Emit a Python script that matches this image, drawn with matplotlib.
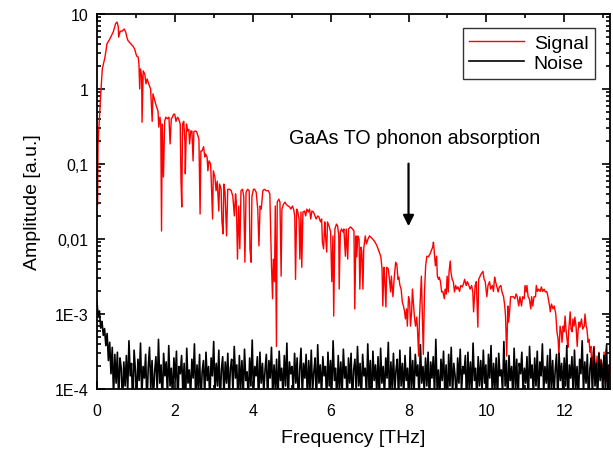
import numpy as np
import matplotlib
matplotlib.use("Agg")
import matplotlib.pyplot as plt
from matplotlib.ticker import FixedLocator, FixedFormatter, MultipleLocator, LogLocator, NullFormatter

plt.rcParams['font.family'] = ['Liberation Sans', 'DejaVu Sans']

# THz spectrum (signal)
signal_freq = [
    0.02, 0.03, 0.07, 0.10, 0.14, 0.21, 0.26, 0.33, 0.42, 0.48,
    0.52, 0.55, 0.56, 0.60, 0.65, 0.70, 0.74, 0.77, 0.80, 0.87,
    0.93, 0.97, 1.02, 1.06, 1.08, 1.10, 1.12, 1.15, 1.16, 1.19,
    1.23, 1.26, 1.29, 1.33, 1.38, 1.42, 1.44, 1.49, 1.53, 1.57,
    1.59, 1.62, 1.64, 1.66, 1.68, 1.71, 1.74, 1.77, 1.81, 1.85,
    1.88, 1.91, 1.94, 1.97, 2.00, 2.03, 2.07, 2.10, 2.14, 2.16,
    2.18, 2.20, 2.23, 2.26, 2.27, 2.30, 2.33, 2.36, 2.38, 2.41,
    2.44, 2.47, 2.49, 2.53, 2.56, 2.62, 2.65, 2.67, 2.70, 2.74,
    2.77, 2.79, 2.83, 2.85, 2.88, 2.92, 2.94, 2.97, 2.99, 3.03,
    3.06, 3.09, 3.13, 3.15, 3.19, 3.21, 3.24, 3.26, 3.29, 3.33,
    3.36, 3.41, 3.45, 3.49, 3.53, 3.56, 3.58, 3.61, 3.64, 3.67,
    3.70, 3.74, 3.77, 3.80, 3.83, 3.87, 3.91, 3.93, 3.96, 3.98,
    4.02, 4.05, 4.09, 4.13, 4.16, 4.19, 4.22, 4.26, 4.30, 4.35,
    4.40, 4.44, 4.46, 4.48, 4.51, 4.53, 4.56, 4.58, 4.61, 4.63,
    4.67, 4.70, 4.73, 4.75, 4.79, 4.83, 4.86, 4.91, 4.95, 4.98,
    5.02, 5.05, 5.08, 5.10, 5.13, 5.16, 5.19, 5.21, 5.24, 5.26,
    5.29, 5.33, 5.36, 5.39, 5.43, 5.46, 5.49, 5.52, 5.56, 5.60,
    5.63, 5.67, 5.70, 5.74, 5.77, 5.79, 5.82, 5.85, 5.87, 5.90,
    5.92, 5.96, 6.00, 6.03, 6.06, 6.08, 6.11, 6.15, 6.18, 6.21,
    6.22, 6.25, 6.28, 6.32, 6.34, 6.38, 6.40, 6.44, 6.46, 6.51,
    6.56, 6.60, 6.62, 6.65, 6.67, 6.70, 6.73, 6.75, 6.78, 6.80,
    6.83, 6.85, 6.89, 6.92, 6.96, 7.00, 7.04, 7.08, 7.14, 7.19,
    7.24, 7.29, 7.32, 7.34, 7.37, 7.39, 7.42, 7.44, 7.48, 7.51,
    7.54, 7.56, 7.60, 7.63, 7.67, 7.70, 7.73, 7.75, 7.78, 7.81,
    7.84, 7.87, 7.90, 7.92, 7.95, 7.97, 8.00, 8.03, 8.05, 8.08,
    8.10, 8.13, 8.15, 8.18, 8.21, 8.23, 8.26, 8.28, 8.31, 8.33,
    8.36, 8.38, 8.41, 8.44, 8.47, 8.51, 8.55, 8.58, 8.62, 8.64,
    8.67, 8.69, 8.72, 8.74, 8.77, 8.79, 8.82, 8.85, 8.88, 8.92,
    8.94, 8.97, 8.99, 9.02, 9.04, 9.07, 9.09, 9.12, 9.15, 9.18,
    9.21, 9.24, 9.27, 9.31, 9.34, 9.38, 9.41, 9.44, 9.48, 9.51,
    9.55, 9.58, 9.62, 9.65, 9.67, 9.71, 9.74, 9.78, 9.80, 9.86,
    9.91, 9.94, 9.97, 10.01, 10.04, 10.08, 10.11, 10.15, 10.18, 10.21,
    10.23, 10.26, 10.30, 10.33, 10.37, 10.40, 10.44, 10.47, 10.49, 10.52,
    10.55, 10.57, 10.60, 10.62, 10.66, 10.69, 10.73, 10.76, 10.79, 10.83,
    10.86, 10.90, 10.93, 10.97, 10.99, 11.02, 11.04, 11.07, 11.10, 11.14,
    11.16, 11.19, 11.22, 11.26, 11.28, 11.31, 11.34, 11.38, 11.41, 11.44,
    11.48, 11.51, 11.55, 11.58, 11.62, 11.64, 11.67, 11.71, 11.74, 11.78,
    11.81, 11.84, 11.86, 11.89, 11.92, 11.94, 11.97, 11.99, 12.02, 12.04,
    12.07, 12.09, 12.12, 12.15, 12.17, 12.20, 12.22, 12.25, 12.27, 12.30,
    12.33, 12.35, 12.38, 12.40, 12.44, 12.47, 12.51, 12.53, 12.56, 12.58,
    12.61, 12.63, 12.66, 12.68, 12.71, 12.74, 12.76, 12.79, 12.81, 12.84,
    12.86, 12.89, 12.92, 12.94, 12.97, 12.99, 13.02, 13.04, 13.07, 13.10,
    13.12, 13.15,
]
signal_amp = [
    0.029, 0.185, 0.46, 0.86, 1.85, 2.67, 4.0, 4.6, 5.75, 7.4,
    7.8, 6.7, 4.9, 5.9, 5.9, 6.3, 5.75, 4.9, 4.4, 4.0,
    3.7, 3.4, 2.75, 2.67, 2.15, 1.0, 1.85, 1.49, 0.36, 1.74,
    1.58, 1.17, 1.36, 1.17, 1.0, 0.37, 0.86, 0.69, 0.58, 0.51,
    0.31, 0.42, 0.34, 0.0128, 0.34, 0.067, 0.37, 0.42, 0.40, 0.42,
    0.185, 0.40, 0.42, 0.46, 0.46, 0.37, 0.42, 0.40, 0.34, 0.059,
    0.0267, 0.34, 0.37, 0.20, 0.074, 0.34, 0.275, 0.29, 0.185, 0.275,
    0.275, 0.11, 0.27, 0.275, 0.27, 0.215, 0.0215, 0.149, 0.149, 0.17,
    0.124, 0.136, 0.124, 0.081, 0.11, 0.1, 0.054, 0.0185, 0.081, 0.067,
    0.044, 0.059, 0.0236, 0.054, 0.046, 0.0174, 0.0117, 0.054, 0.042, 0.011,
    0.046, 0.046, 0.044, 0.037, 0.0203, 0.040, 0.031, 0.0054, 0.0275, 0.0074,
    0.044, 0.046, 0.037, 0.0049, 0.042, 0.046, 0.044, 0.0074, 0.0049, 0.037,
    0.046, 0.046, 0.042, 0.025, 0.0081, 0.0275, 0.025, 0.044, 0.046, 0.044,
    0.044, 0.040, 0.0149, 0.0049, 0.0016, 0.0054, 0.0027, 0.0275, 0.00037, 0.031,
    0.034, 0.031, 0.0032, 0.025, 0.029, 0.031, 0.029, 0.0275, 0.0267, 0.025,
    0.0275, 0.025, 0.0203, 0.0029, 0.025, 0.0229, 0.0185, 0.0054, 0.0229, 0.0042,
    0.0229, 0.0236, 0.0203, 0.025, 0.0229, 0.025, 0.0185, 0.0236, 0.0229, 0.0203,
    0.0185, 0.0203, 0.0197, 0.0169, 0.0185, 0.0091, 0.0074, 0.0169, 0.011, 0.0067,
    0.0169, 0.0149, 0.0124, 0.0027, 0.011, 0.00094, 0.0136, 0.0158, 0.0149, 0.011,
    0.00215, 0.0124, 0.0136, 0.0124, 0.0136, 0.0059, 0.0136, 0.0054, 0.0136, 0.0145,
    0.0136, 0.0128, 0.00117, 0.011, 0.0058, 0.011, 0.010, 0.00215, 0.0078, 0.0069,
    0.00215, 0.0074, 0.011, 0.0086, 0.010, 0.011, 0.0105, 0.010, 0.0091, 0.0081,
    0.0069, 0.0058, 0.0040, 0.00128, 0.0042, 0.0029, 0.00124, 0.0042, 0.0040, 0.0029,
    0.00197, 0.0032, 0.0017, 0.0029, 0.0049, 0.0046, 0.0029, 0.0031, 0.0024, 0.00215,
    0.00145, 0.00128, 0.00107, 0.00086, 0.00117, 0.00069, 0.0017, 0.00145, 0.00069, 0.00107,
    0.00215, 0.00128, 0.00094, 0.00069, 0.00091, 0.00063, 0.000275, 0.00086, 0.00197, 0.0032,
    0.00078, 0.00029, 0.00197, 0.0044, 0.0059, 0.0058, 0.0063, 0.0069, 0.0078, 0.0091,
    0.0058, 0.0044, 0.0059, 0.0032, 0.0029, 0.0031, 0.0027, 0.00197, 0.0020, 0.0016,
    0.00215, 0.00185, 0.0032, 0.00197, 0.0036, 0.0051, 0.0036, 0.0029, 0.0027, 0.00197,
    0.0024, 0.00215, 0.0023, 0.0020, 0.0024, 0.0023, 0.0025, 0.0029, 0.0024, 0.0027,
    0.0024, 0.00215, 0.0024, 0.00197, 0.00107, 0.0024, 0.0027, 0.00067, 0.0029, 0.0034,
    0.0037, 0.0029, 0.0027, 0.0017, 0.0024, 0.0027, 0.00215, 0.0024, 0.0020, 0.0031,
    0.00275, 0.0024, 0.00197, 0.0023, 0.0024, 0.00197, 0.0017, 0.00128, 0.00094, 0.000275,
    0.00128, 0.00078, 0.00117, 0.0017, 0.0017, 0.0017, 0.0016, 0.00185, 0.0017, 0.00128,
    0.0017, 0.00128, 0.0017, 0.0016, 0.0024, 0.00197, 0.0024, 0.0017, 0.0016, 0.00117,
    0.0017, 0.00128, 0.0017, 0.0017, 0.0024, 0.0020, 0.00215, 0.0020, 0.0023, 0.0020,
    0.00215, 0.00197, 0.0020, 0.0017, 0.00128, 0.00107, 0.00136, 0.00117, 0.00128, 0.0010,
    0.00058, 0.00046, 0.000275, 0.00069, 0.00058, 0.00042, 0.00069, 0.00058, 0.00094, 0.00063,
    0.00046, 0.00036, 0.00069, 0.00107, 0.00063, 0.00058, 0.00086, 0.00069, 0.00091, 0.00069,
    0.00037, 0.00058, 0.00078, 0.00067, 0.00086, 0.00063, 0.00069, 0.0010, 0.00069, 0.00063,
    0.00042, 0.00046, 0.00031, 0.00037, 0.000185, 0.00031, 0.00037, 0.00023, 0.00017, 0.000275,
    0.000124, 0.00031, 0.00017, 0.00025, 0.00020, 0.000136, 0.00031, 0.000185, 0.00034, 0.000124,
    0.00020, 0.000136,
]

# noise floor, in units of 1E-4, evenly spaced from 0 to 13.15 THz
noise_amp_e4 = [
    15, 9.5, 11, 6.5, 8, 5.2, 6.4, 3.8, 5.5, 2.4, 4.2, 1.6, 3.6, 0.8, 2.9, 1.2, 3.1, 0.7, 2.6, 1.9,
    0.6, 2.3, 1.1, 2.8, 0.9, 4.4, 1.5, 2.2, 0.5, 3.3, 1.8, 0.7, 2.5, 1.3, 4.1, 0.8, 2.0, 1.4, 2.9, 0.6,
    1.9, 3.6, 1.0, 2.4, 0.7, 1.7, 2.7, 0.9, 4.6, 1.2, 2.1, 0.6, 3.0, 1.5, 2.3, 0.8, 3.8, 1.1, 1.9, 0.7,
    2.6, 1.3, 3.2, 0.6, 2.0, 1.6, 2.8, 0.9, 2.2, 0.5, 3.5, 1.2, 1.8, 0.8, 2.5, 1.4, 4.0, 0.7, 2.1, 1.0,
    2.9, 0.6, 1.7, 2.4, 0.8, 3.1, 1.3, 2.0, 0.7, 2.6, 1.5, 4.3, 0.9, 2.2, 1.1, 3.3, 0.6, 1.8, 2.7, 0.8,
    2.3, 1.2, 3.0, 0.7, 1.9, 2.5, 0.9, 3.7, 1.4, 2.1, 0.6, 2.8, 1.0, 2.4, 0.8, 3.4, 1.3, 1.7, 0.7, 2.6,
    1.1, 4.5, 0.8, 2.0, 1.5, 2.7, 0.6, 3.1, 1.2, 2.2, 0.9, 1.8, 2.9, 0.7, 2.4, 1.4, 3.6, 0.8, 2.1, 1.0,
    2.5, 0.6, 3.2, 1.3, 1.9, 0.8, 2.8, 1.1, 4.1, 0.7, 2.3, 1.6, 2.0, 0.9, 3.0, 1.2, 2.6, 0.6, 1.8, 3.5,
    0.8, 2.2, 1.4, 2.9, 0.7, 2.4, 1.0, 3.3, 0.9, 1.7, 2.6, 0.6, 3.9, 1.2, 2.1, 0.8, 2.7, 1.5, 2.0, 0.7,
    3.1, 1.1, 2.4, 0.9, 4.4, 1.3, 1.9, 0.6, 2.8, 1.0, 2.3, 0.8, 3.4, 1.4, 2.0, 0.7, 2.6, 1.2, 3.0, 0.6,
    1.8, 2.5, 0.9, 3.7, 1.1, 2.2, 0.7, 2.9, 1.5, 1.9, 0.8, 4.0, 1.0, 2.4, 0.6, 3.2, 1.3, 2.1, 0.9, 2.7,
    0.7, 3.5, 1.2, 2.0, 0.8, 2.6, 1.4, 4.2, 0.6, 2.3, 1.0, 3.0, 0.9, 1.8, 2.5, 0.7, 3.3, 1.1, 2.2, 0.8,
    2.8, 1.3, 1.9, 0.6, 3.6, 1.0, 2.4, 0.8, 2.9, 1.5, 2.1, 0.7, 3.9, 1.2, 2.0, 0.9, 2.6, 1.1, 3.1, 0.6,
    2.3, 1.4, 2.7, 0.8, 4.6, 1.0, 1.8, 0.7, 2.5, 1.3, 3.2, 0.9, 2.1, 0.6, 2.9, 1.1, 3.6, 0.8, 2.2, 1.5,
    0.7, 2.6, 1.2, 3.4, 0.9, 2.0, 1.6, 2.8, 0.6, 3.1, 1.0, 2.3, 0.8, 4.1, 1.3, 1.9, 0.7, 2.7, 1.1, 2.4,
    0.9, 3.3, 1.2, 2.1, 0.6, 2.9, 1.4, 3.8, 0.8, 2.2, 1.0, 2.6, 0.7, 3.0, 1.5, 1.8, 0.9, 4.3, 1.1, 2.4,
    0.6, 2.8, 1.3, 2.0, 0.8, 3.5, 1.0, 2.5, 0.7, 2.2, 1.6, 3.1, 0.9, 1.9, 1.2, 2.7, 0.6, 3.7, 1.4, 2.1,
    0.8, 2.6, 1.1, 3.2, 0.7, 2.3, 1.5, 4.0, 0.9, 2.0, 1.2, 2.8, 0.6, 3.4, 1.0, 2.4, 0.8, 1.8, 2.9, 0.7,
    3.0, 1.3, 2.2, 0.9, 2.6, 1.1, 3.8, 0.6, 2.1, 1.4, 2.7, 0.8, 3.3, 1.0, 2.0, 0.7, 2.5, 1.6, 4.4, 0.9,
    2.3, 1.2, 2.9, 0.6, 1.9, 2.6, 0.8, 3.5, 1.1, 2.2, 0.7, 3.0, 1.3, 2.4, 0.9, 2.8, 1.0, 3.9, 0.6, 2.1,
]
noise_amp = np.array(noise_amp_e4) * 1e-4
noise_freq = np.linspace(0, 13.15, len(noise_amp))

y_ticks = [1e-4, 1e-3, 1e-2, 1e-1, 1, 10]
y_tick_labels = ["1E-4", "1E-3", "0,01", "0,1", "1", "10"]

fig = plt.figure(figsize=(6.13, 4.52), dpi=100)
ax = fig.add_axes([0.158, 0.137, 0.837, 0.830])

ax.plot(signal_freq, signal_amp, color="#ff0000", lw=1.0, label="Signal")
ax.plot(noise_freq, noise_amp, color="black", lw=1.2, label="Noise")

ax.set_yscale("log")
ax.set_xlim(0, 13.17)
ax.set_ylim(1e-4, 10)

ax.xaxis.set_major_locator(MultipleLocator(2))
ax.xaxis.set_minor_locator(MultipleLocator(1))
ax.yaxis.set_major_locator(FixedLocator(y_ticks))
ax.yaxis.set_major_formatter(FixedFormatter(y_tick_labels))
ax.yaxis.set_minor_locator(LogLocator(base=10, subs=np.arange(2, 10)))
ax.yaxis.set_minor_formatter(NullFormatter())

ax.tick_params(which="both", direction="in", top=True, right=True, width=1.2, labelsize=11.5)
ax.tick_params(which="major", length=6)
ax.tick_params(which="minor", length=3)
ax.tick_params(axis="x", which="major", pad=10)
ax.tick_params(axis="y", which="major", pad=6)
for sp in ax.spines.values():
    sp.set_linewidth(1.3)

ax.set_xlabel("Frequency [THz]", fontsize=14, labelpad=8)
ax.set_ylabel("Amplitude [a.u.]", fontsize=14, labelpad=10)

ax.annotate("", xy=(8, 0.0136), xytext=(8, 0.11),
            arrowprops=dict(arrowstyle="-|>", color="black", lw=1.6, mutation_scale=16))
ax.text(8.15, 0.19, "GaAs TO phonon absorption", ha="center", va="baseline", fontsize=14.2)

leg = ax.legend(loc="upper right", bbox_to_anchor=(0.971, 0.963), borderaxespad=0,
                fontsize=14, frameon=True, fancybox=False, handlelength=2.8,
                handletextpad=0.5, borderpad=0.35, labelspacing=0.1)
leg.get_frame().set_edgecolor("black")
leg.get_frame().set_linewidth(1.0)

fig.savefig("out.png", dpi=100)
